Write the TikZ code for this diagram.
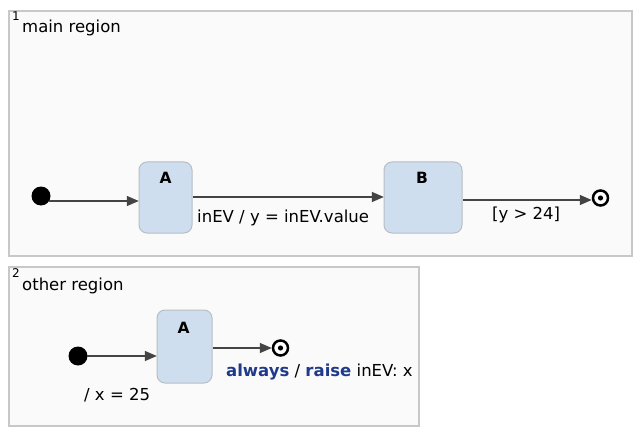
\documentclass[tikz,border=0pt]{standalone}
\usepackage{fontspec}
\setmainfont{DejaVu Sans}
\usetikzlibrary{arrows.meta}
\definecolor{regfill}{HTML}{FAFAFA}
\definecolor{regdraw}{HTML}{C8C8C8}
\definecolor{stfill}{HTML}{CFDEEE}
\definecolor{stdraw}{HTML}{B8BEC4}
\definecolor{edge}{HTML}{444444}
\definecolor{kw}{HTML}{1F3A8A}
\tikzset{
  x=1pt,y=-1pt,
  region/.style={draw=regdraw,fill=regfill,line width=1.2pt},
  statebox/.style={draw=stdraw,fill=stfill,line width=1pt,rounded corners=8pt},
  initst/.style={circle,fill=black,inner sep=0pt,minimum size=19pt},
  finalst/.style={circle,draw=black,line width=2.5pt,fill=white,inner sep=0pt,minimum size=15pt},
  trans/.style={draw=edge,line width=1.4pt,-{Triangle[length=12pt,width=10pt]}},
  lbl/.style={font=\fontsize{16.5}{19}\selectfont,inner sep=0pt,anchor=base west},
  stname/.style={font=\fontsize{15.5}{18}\selectfont\bfseries,inner sep=0pt,anchor=base},
  num/.style={font=\fontsize{12}{14}\selectfont,inner sep=0pt,anchor=base west},
}
\begin{document}
\begin{tikzpicture}
\useasboundingbox (0,0) rectangle (640,441);
% region 1
\path[region] (9,11) rectangle (632,256);
\node[num] (n1) at (12,21) {1};
\node[lbl] (r1) at (22,33) {main region};
\node[initst] (i1) at (41,196) {};
\path[statebox] (139,162) rectangle (192,233);
\node[inner sep=0pt,minimum width=53pt,minimum height=71pt] (sA) at (165.5,197.5) {};
\node[stname] (tA) at (165.5,183) {A};
\path[statebox] (384,162) rectangle (462,233);
\node[inner sep=0pt,minimum width=78pt,minimum height=71pt] (sB) at (423,197.5) {};
\node[stname] (tB) at (422,183) {B};
\node[finalst] (f1) at (600.5,198) {};
\fill (f1.center) circle (2.6pt);
\coordinate (a1) at (49,201);
\draw[trans] (a1) -- (sA.west |- a1);
\coordinate (a2) at (193,197);
\draw[trans] (a2) -- (sB.west |- a2);
\node[lbl] (l2) at (197,222) {inEV / y = inEV.value};
\coordinate (a3) at (463,200);
\draw[trans] (a3) -- (f1.west |- a3);
\node[lbl] (l3) at (492,219) {[y > 24]};
% region 2
\path[region] (9,267) rectangle (419,426);
\node[num] (n2) at (12,277) {2};
\node[lbl] (r2) at (22,290) {other region};
\node[initst] (i2) at (78,356) {};
\path[statebox] (157,310) rectangle (212,383);
\node[inner sep=0pt,minimum width=55pt,minimum height=73pt] (sA2) at (184.5,346.5) {};
\node[stname] (tA2) at (183.5,333) {A};
\node[finalst] (f2) at (280.5,348) {};
\fill (f2.center) circle (2.6pt);
\coordinate (b1) at (87,356);
\draw[trans] (b1) -- (sA2.west |- b1);
\coordinate (b2) at (213,348);
\draw[trans] (b2) -- (f2.west |- b2);
\node[lbl] (l5) at (226,376) {\textcolor{kw}{\textbf{always}} / \textcolor{kw}{\textbf{raise}} inEV: x};
\node[lbl] (l4) at (84,400) {/ x = 25};
\end{tikzpicture}
\end{document}
